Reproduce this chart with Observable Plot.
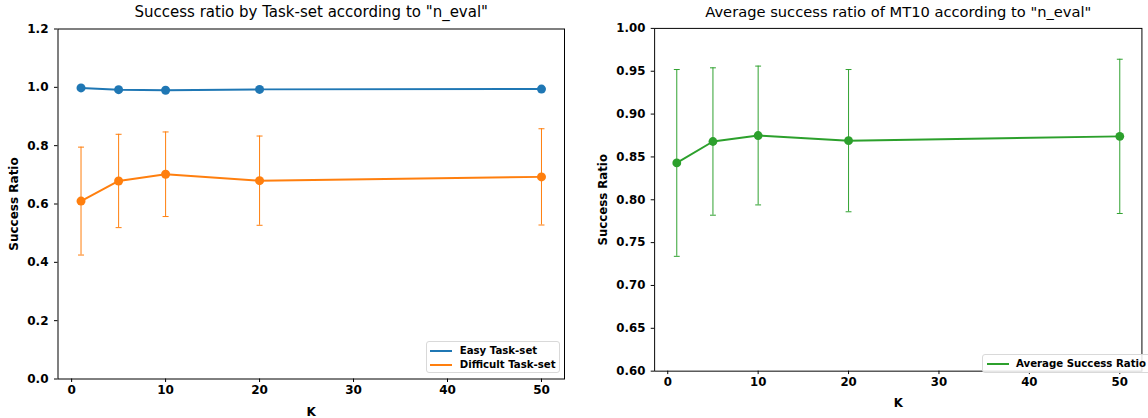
<!DOCTYPE html>
<html><head><meta charset="utf-8">
<script src="https://cdn.jsdelivr.net/npm/d3@7"></script>
<script src="https://cdn.jsdelivr.net/npm/@observablehq/plot@0.6"></script>
<style>
html,body{margin:0;padding:0;background:#fff;overflow:hidden;width:1148px;height:418px;}
#wrap{position:relative;width:1148px;height:418px;font-family:"DejaVu Sans",sans-serif;}
.panel{position:absolute;top:0;}
.legend{position:absolute;background:rgba(255,255,255,0.85);border:1px solid #d9d9d9;border-radius:3px;box-sizing:border-box;font:bold 10.2px "DejaVu Sans",sans-serif;color:#000;}
.row{position:absolute;left:0;height:14px;white-space:nowrap;}
.sw{position:absolute;left:3.5px;width:22px;height:2px;top:6px;}
.lt{position:absolute;left:33px;top:0;line-height:14px;}
</style>
</head><body>
<div id="wrap">
  <div id="left" class="panel" style="left:0"></div>
  <div id="right" class="panel" style="left:580px"></div>
</div>
<script>
// ---- data ----
const K = [1, 5, 10, 20, 50];
const easyMean = [0.998, 0.992, 0.990, 0.993, 0.994];
const diffMean = [0.610, 0.679, 0.702, 0.680, 0.693];
const diffErr  = [0.185, 0.160, 0.145, 0.153, 0.165];
const avgMean  = [0.843, 0.868, 0.875, 0.869, 0.874];
const avgErr   = [0.109, 0.086, 0.081, 0.083, 0.090];
const xTicks = [0, 10, 20, 30, 40, 50];
const yTicksLeft = [0, 0.2, 0.4, 0.6, 0.8, 1.0, 1.2];
const yTicksRight = [0.60, 0.65, 0.70, 0.75, 0.80, 0.85, 0.90, 0.95, 1.00];
const titleLeft = 'Success ratio by Task-set according to "n_eval"';
const titleRight = 'Average success ratio of MT10 according to "n_eval"';
const xLabel = "K";
const yLabel = "Success Ratio";
const legendLeft = ["Easy Task-set", "Difficult Task-set"];
const legendRight = ["Average Success Ratio"];

const BLUE = "#1f77b4", ORANGE = "#ff7f0e", GREEN = "#2ca02c";

const easy = K.map((k, i) => ({k, m: easyMean[i]}));
const diff = K.map((k, i) => ({k, m: diffMean[i], lo: diffMean[i] - diffErr[i], hi: diffMean[i] + diffErr[i]}));
const avg  = K.map((k, i) => ({k, m: avgMean[i], lo: avgMean[i] - avgErr[i], hi: avgMean[i] + avgErr[i]}));

const cap = {draw(ctx) { ctx.moveTo(-3, 0); ctx.lineTo(3, 0); }};

function seriesMarks(data, color, withErr) {
  const marks = [];
  if (withErr) {
    marks.push(Plot.ruleX(data, {x: "k", y1: "lo", y2: "hi", stroke: color, strokeWidth: 1}));
    marks.push(Plot.dot(data, {x: "k", y: "lo", symbol: cap, r: 3, stroke: color, fill: "none", strokeWidth: 1}));
    marks.push(Plot.dot(data, {x: "k", y: "hi", symbol: cap, r: 3, stroke: color, fill: "none", strokeWidth: 1}));
  }
  marks.push(Plot.line(data, {x: "k", y: "m", stroke: color, strokeWidth: 2}));
  marks.push(Plot.dot(data, {x: "k", y: "m", r: 4.5, fill: color, stroke: "none"}));
  return marks;
}

function makePanel({width, mL, mR, yDomain, yTicks, yFmt, series, title, yLabelOffset}) {
  return Plot.plot({
    width, height: 418,
    marginLeft: mL, marginRight: mR, marginTop: 28.5, marginBottom: 39.5,
    style: {fontFamily: '"DejaVu Sans", sans-serif', fontSize: "12px", color: "#000", background: "transparent", overflow: "visible"},
    x: {domain: [-1.45, 52.45]},
    y: {domain: yDomain},
    marks: [
      ...series,
      Plot.frame({stroke: "#000", strokeWidth: 1}),
      Plot.axisX({ticks: xTicks, tickSize: 3.5, tickPadding: 3, tickFormat: d3.format("d"), fontWeight: "bold", fontSize: 12,
                  label: xLabel, labelAnchor: "center", labelArrow: "none", labelOffset: 37}),
      Plot.axisY({ticks: yTicks, tickSize: 3.5, tickPadding: 6, tickFormat: d3.format(yFmt), fontWeight: "bold", fontSize: 12,
                  label: yLabel, labelAnchor: "center", labelArrow: "none", labelOffset: yLabelOffset}),
      Plot.text([title], {frameAnchor: "top", dy: -22.5, fontSize: 15, fontWeight: "normal", fill: "#000"})
    ]
  });
}

const left = makePanel({
  width: 580, mL: 57.5, mR: 16, yDomain: [0, 1.2], yTicks: yTicksLeft, yFmt: ".1f",
  series: [...seriesMarks(easy, BLUE, false), ...seriesMarks(diff, ORANGE, true)],
  title: titleLeft, yLabelOffset: 49
});
document.getElementById("left").appendChild(left);

const right = makePanel({
  width: 580, mL: 75.7, mR: 6.7, yDomain: [0.6, 1.0], yTicks: yTicksRight, yFmt: ".2f",
  series: seriesMarks(avg, GREEN, true),
  title: titleRight, yLabelOffset: 57
});
document.getElementById("right").appendChild(right);

function legend(items, colors, pos) {
  const div = document.createElement("div");
  div.className = "legend";
  Object.assign(div.style, pos);
  items.forEach((t, i) => {
    const row = document.createElement("div");
    row.className = "row";
    row.style.top = (2 + i * 14.5) + "px";
    row.style.width = "100%";
    const sw = document.createElement("div");
    sw.className = "sw"; sw.style.background = colors[i];
    const lt = document.createElement("div");
    lt.className = "lt"; lt.textContent = t;
    row.appendChild(sw); row.appendChild(lt);
    div.appendChild(row);
  });
  document.getElementById("wrap").appendChild(div);
}
legend(legendLeft, [BLUE, ORANGE], {left: "425.7px", top: "340.7px", width: "134px", height: "32px"});
legend(legendRight, [GREEN], {left: "982px", top: "354px", width: "170px", height: "19px"});
</script>
</body></html>
